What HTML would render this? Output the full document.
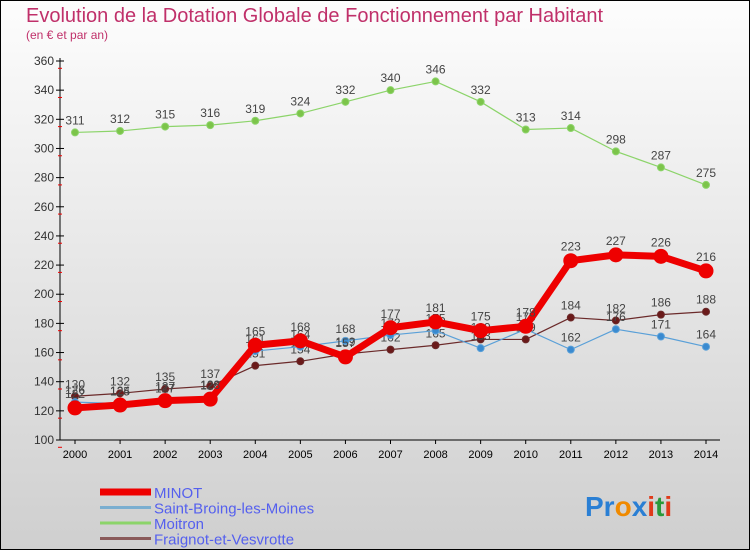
<!DOCTYPE html>
<html><head><meta charset="utf-8"><style>
body{margin:0;width:750px;height:550px;overflow:hidden;font-family:"Liberation Sans",sans-serif}
</style></head><body>
<svg id="c" width="750" height="550" xmlns="http://www.w3.org/2000/svg">
<defs><linearGradient id="bg" x1="0" y1="0" x2="0" y2="1"><stop offset="0" stop-color="#fdfdfd"/><stop offset="1" stop-color="#cfcfcf"/></linearGradient></defs>
<rect x="0.5" y="0.5" width="749" height="549" fill="url(#bg)" stroke="#000"/>
<text x="26" y="22" font-size="20" fill="#c0306a">Evolution de la Dotation Globale de Fonctionnement par Habitant</text>
<text x="26" y="39" font-size="12" fill="#c0306a">(en € et par an)</text>
<g id="axes"></g><g id="series"></g><g id="legend"></g>
<text x="585" y="516" font-size="28" font-weight="bold"><tspan fill="#2a7fd4">Pr</tspan><tspan fill="#f08a00">o</tspan><tspan fill="#2a7fd4">x</tspan><tspan fill="#e03a1a">i</tspan><tspan fill="#2a9a3a">t</tspan><tspan fill="#e03a1a">i</tspan></text>
</svg>
<script>
const years=[2000,2001,2002,2003,2004,2005,2006,2007,2008,2009,2010,2011,2012,2013,2014];
const yTicks=[100,120,140,160,180,200,220,240,260,280,300,320,340,360];
const minot=[122,124,127,128,165,168,157,177,181,175,178,223,227,226,216];
const saintBroing=[126,125,127,129,161,164,168,172,175,163,176,162,176,171,164];
const moitron=[311,312,315,316,319,324,332,340,346,332,313,314,298,287,275];
const fraignot=[130,132,135,137,151,154,159,162,165,169,169,184,182,186,188];
const NS="http://www.w3.org/2000/svg";
const X=i=>75+i*(631/14), Y=v=>440-(v-100)*379/260;
function mk(t,a,p){const e=document.createElementNS(NS,t);for(const k in a)e.setAttribute(k,a[k]);p.appendChild(e);return e;}
const ax=document.getElementById('axes');
const l1=mk('line',{x1:60,y1:58,x2:60,y2:440,stroke:'#000'},ax);

const l2=mk('line',{x1:60,y1:440,x2:720,y2:440,stroke:'#000'},ax);

yTicks.forEach(v=>{const y=Y(v);mk('line',{x1:56,y1:y,x2:64,y2:y,stroke:'#000'},ax);
mk('line',{x1:58,y1:y+7.3,x2:62,y2:y+7.3,stroke:'#e00'},ax);
const t=mk('text',{x:54,y:y+4,'font-size':12,'text-anchor':'end',fill:'#333'},ax);t.textContent=v;
});
years.forEach((yr,i)=>{const x=X(i);mk('line',{x1:x,y1:440,x2:x,y2:444,stroke:'#000'},ax);
const t=mk('text',{x:x,y:458,'font-size':11,'text-anchor':'middle',fill:'#000'},ax);t.textContent=yr;
});
const sg=document.getElementById('series');
function draw(name,data,color,w,r,dot,lab,off){const g=mk('g',{},sg);

const p=mk('polyline',{points:data.map((v,i)=>X(i)+','+Y(v)).join(' '),fill:'none',stroke:color,'stroke-width':w,'stroke-linejoin':'round'},g);

data.forEach((v,i)=>{const c=mk('circle',{cx:X(i),cy:Y(v),r:r,fill:dot,stroke:color,'stroke-width':1},g);

if(lab){const t=mk('text',{x:X(i),y:Y(v)-off,'font-size':12,'text-anchor':'middle',fill:'#444'},g);t.textContent=v;
}});}
draw('moitron',moitron,'#8cd46a',1.2,3.5,'#7cc44a',true,8);
draw('fraignot',fraignot,'#6b2a2a',1.2,3.5,'#6b1a1a',true,8);
draw('saint-broing',saintBroing,'#5aa0d8',1.2,3.5,'#3a8ad0',true,8);
draw('minot',minot,'#ee0000',7,7,'#ee0000',true,10);
const lg=document.getElementById('legend');
[['MINOT','#ee0000',7],['Saint-Broing-les-Moines','#7aaed0',3],['Moitron','#8cd46a',3],['Fraignot-et-Vesvrotte','#8a5a5a',3]].forEach((d,i)=>{
const y=492+i*15.5;const g=mk('g',{},lg);
mk('line',{x1:100,y1:y,x2:151,y2:y,stroke:d[1],'stroke-width':d[2]},g);
const t=mk('text',{x:154,y:y+6,'font-size':15,fill:'#5560ee'},g);t.textContent=d[0];});
</script>
</body></html>
